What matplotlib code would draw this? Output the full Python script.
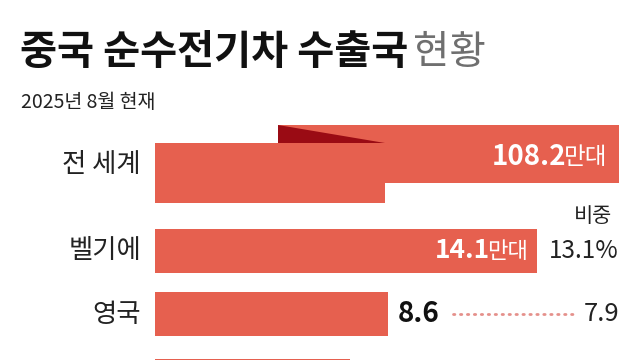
import matplotlib
matplotlib.use("Agg")
import matplotlib.pyplot as plt
from matplotlib.patches import Polygon

plt.rcParams['font.family'] = ['Noto Sans CJK KR', 'DejaVu Sans']

# data (만대, %)
countries = ['전 세계', '벨기에', '영국', '']
exports = [108.2, 14.1, 8.6, 7.2]
shares = [None, 13.1, 7.9, None]
title_main = '중국 순수전기차 수출국'
title_sub = '현황'
subtitle = '2025년 8월 현재'

BAR = '#E6604F'
DARK = '#9A0B14'

# layout in pixels (640x360 canvas), x scale in 만대
origin = 155
px_per_unit = 27.1
rows = [165, 251, 314, 381]


def ux(px):
    return (px - origin) / px_per_unit


fig = plt.figure(figsize=(6.4, 3.6), dpi=100)
ax = fig.add_axes([0, 0, 1, 1])
ax.set_xlim(ux(0), ux(640))
ax.set_ylim(360, 0)
ax.axis('off')

# title
fig.text(20 / 640, 1 - 53 / 360, title_main, fontsize=29, fontweight='bold',
         color='#111111', ha='left', va='center')
fig.text(413 / 640, 1 - 53 / 360, title_sub, fontsize=28.5, fontweight='light',
         color='#6f6f6f', ha='left', va='center')
fig.text(21 / 640, 1 - 102 / 360, subtitle, fontsize=14, color='#222222',
         ha='left', va='center')

# world bar: too long to fit, drawn folded
low_end = ux(385)
high_start = ux(278)
high_end = ux(619)
ax.barh(173, low_end, height=60, left=0, color=BAR)
ax.barh(154, high_end - high_start, height=58, left=high_start, color=BAR)
ax.add_patch(Polygon([(high_start, 125), (high_start, 143), (low_end, 143)],
                     closed=True, color=DARK, lw=0))

# other bars
ax.barh(rows[1:], exports[1:], height=44, left=0, color=BAR)

# category labels
for name, y in zip(countries, rows):
    ax.text(ux(141), y, name, fontsize=19, color='#222222', ha='right', va='center')

fig.canvas.draw()
renderer = fig.canvas.get_renderer()


def two_part(x, y, num, unit, color, num_size, unit_size):
    t = ax.text(x, y, unit, fontsize=unit_size, color=color, ha='right', va='center')
    bb = t.get_window_extent(renderer)
    left = ax.transData.inverted().transform((bb.x0 + 3, 0))[0]
    ax.text(left, y, num, fontsize=num_size, fontweight='bold', color=color,
            ha='right', va='center')


two_part(ux(607), 157, f'{exports[0]:.1f}', '만대', 'white', 20, 17)
two_part(ux(528), rows[1], f'{exports[1]:.1f}', '만대', 'white', 19, 16)

# Yeongguk value outside the bar
ax.text(ux(398), rows[2], f'{exports[2]:.1f}', fontsize=20, fontweight='bold',
        color='#111111', ha='left', va='center')
ax.plot([ux(453), ux(577)], [rows[2], rows[2]], color='#E5908B', lw=2,
        linestyle=(0, (0.5, 2.0)), dash_capstyle='round')

# share column
ax.text(ux(612), 216, '비중', fontsize=15, color='#222222', ha='right', va='center')
ax.text(ux(619), rows[1], f'{shares[1]:.1f}%', fontsize=17.5, color='#222222',
        ha='right', va='center')
ax.text(ux(619), rows[2], f'{shares[2]:.1f}', fontsize=18.5, color='#222222',
        ha='right', va='center')

fig.savefig('out.png', dpi=100)
